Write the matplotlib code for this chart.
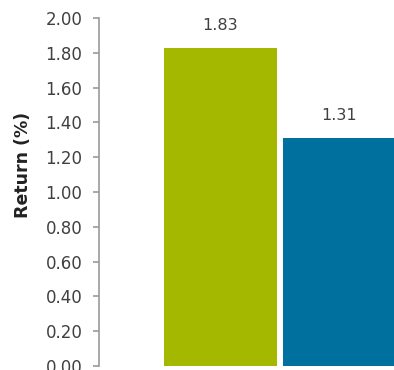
import matplotlib
matplotlib.use("Agg")
import matplotlib.pyplot as plt

# values for the two bars
series = ["Fund", "Benchmark"]
returns = [1.83, 1.31]
colors = ["#A5B800", "#00709E"]
yticks = [0.0, 0.2, 0.4, 0.6, 0.8, 1.0, 1.2, 1.4, 1.6, 1.8, 2.0]

text_col = "#404040"
plt.rcParams["font.family"] = "DejaVu Sans"

fig = plt.figure(figsize=(3.94, 3.70), dpi=100)
ax = fig.add_axes([99 / 394, 4 / 370, 1 - 99 / 394, 348 / 370])

x = range(len(returns))
bars = ax.bar(x, returns, width=0.95, color=colors)

for b, v in zip(bars, returns):
    ax.annotate(f"{v:.2f}", (b.get_x() + b.get_width() / 2, v),
                xytext=(0, 16), textcoords="offset points",
                ha="center", va="center", fontsize=11.5, color=text_col)

ax.set_ylim(0, 2.0)
ax.set_xlim(-1.021, 1.458)
ax.set_yticks(yticks)
ax.set_yticklabels([f"{t:.2f}" for t in yticks])
ax.set_xticks([])

for s in ["top", "right", "bottom"]:
    ax.spines[s].set_visible(False)
ax.spines["left"].set_color("#9a9a9a")
ax.spines["left"].set_linewidth(1.2)
ax.tick_params(axis="y", direction="out", length=4, width=1.2, color="#9a9a9a",
               labelsize=12, labelcolor=text_col, pad=8)

fig.text(23 / 394, 1 - 165 / 370, "Return (%)", rotation=90, ha="center", va="center",
         fontsize=12.5, fontweight="bold", color="#222222")

fig.savefig("out.png", dpi=100)
